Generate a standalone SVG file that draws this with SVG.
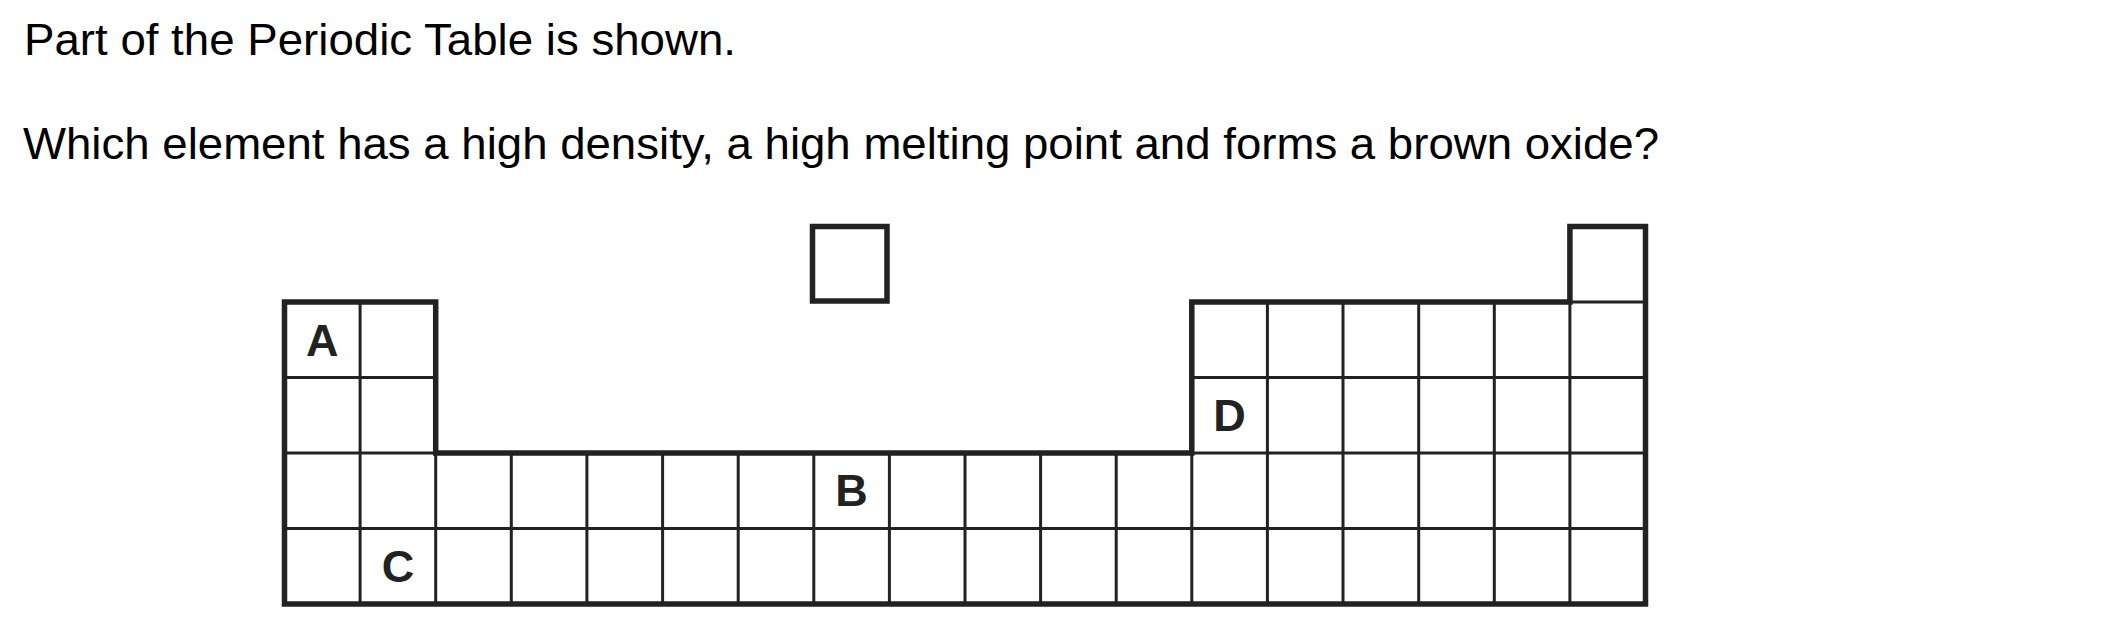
<svg xmlns="http://www.w3.org/2000/svg" width="2101" height="619" viewBox="0 0 2101 619">
  <style>
    .q { font-family: "Liberation Sans", Arial, sans-serif; font-size: 44.5px; fill: #000; }
    .lbl { font-family: "Liberation Sans", Arial, sans-serif; font-size: 45px; font-weight: bold; fill: #222; text-anchor: middle; }
    .thick { fill: none; stroke: #222; stroke-width: 5.5; stroke-linejoin: miter; stroke-linecap: square; }
    .thin { fill: none; stroke: #222; stroke-width: 3; }
  </style>
  <rect width="2101" height="619" fill="#fff"/>
  <g id="question">
    <text class="q" x="24" y="55" textLength="712" lengthAdjust="spacingAndGlyphs">Part of the Periodic Table is shown.</text>
    <text class="q" x="23" y="159" textLength="1636" lengthAdjust="spacingAndGlyphs">Which element has a high density, a high melting point and forms a brown oxide?</text>
  </g>
  <g id="answer-box">
    <rect class="thick" x="812.5" y="226.5" width="74.5" height="74.5"/>
  </g>
  <g id="table">
    <g id="grid-lines">
      <path class="thin" d="M360.1,302V604 M435.7,453V604 M511.3,453V604 M586.9,453V604 M662.6,453V604 M738.2,453V604 M813.8,453V604 M889.4,453V604 M965,453V604 M1040.6,453V604 M1116.2,453V604 M1191.8,453V604 M1267.4,302V604 M1343,302V604 M1418.7,302V604 M1494.3,302V604 M1569.9,302V604"/>
      <path class="thin" d="M284.5,377.5H435.7 M1191.8,377.5H1645.5 M284.5,453H435.7 M1191.8,453H1645.5 M284.5,528.5H1645.5 M1569.9,302H1645.5"/>
    </g>
    <g id="outline">
      <path class="thick" d="M284.5,302H435.7V453H1191.8V302H1569.9V226.5H1645.5V604H284.5Z"/>
    </g>
  </g>
  <g id="label-A"><text class="lbl" x="322.3" y="355.8">A</text></g>
  <g id="label-B"><text class="lbl" x="851.6" y="506">B</text></g>
  <g id="label-C"><text class="lbl" x="397.9" y="582">C</text></g>
  <g id="label-D"><text class="lbl" x="1229.6" y="431">D</text></g>
</svg>
